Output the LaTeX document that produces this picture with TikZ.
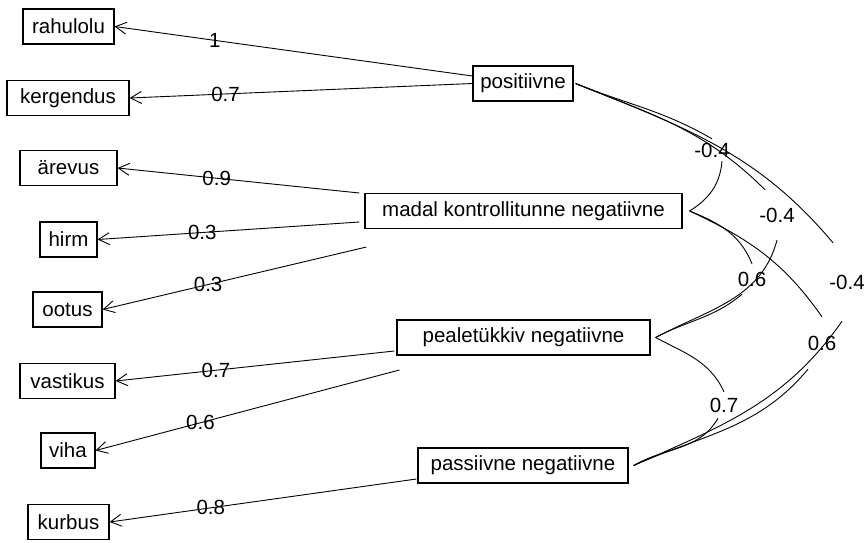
\documentclass[tikz,border=0pt]{standalone}
\usepackage{fontspec}
\setmainfont{Liberation Sans}
\usepackage{tikz}
\usetikzlibrary{arrows.meta,positioning}
\tikzset{
  obsbox/.style={draw, line width=1.2pt, minimum height=35pt, inner sep=0pt,
    font=\fontsize{20.5pt}{24pt}\selectfont},
  latbox/.style={obsbox},
  loading/.style={-{Straight Barb[length=11pt,width=12pt]}, line width=0.9pt},
  loadlabel/.style={inner sep=0pt, font=\fontsize{20.5pt}{24pt}\selectfont},
  covcurve/.style={line width=0.9pt},
  covlabel/.style={inner sep=0pt, minimum width=36pt, font=\fontsize{20.5pt}{24pt}\selectfont},
}
\begin{document}
\begin{tikzpicture}[x=1pt,y=1pt]
  \useasboundingbox (0,0) rectangle (866,-542);
  % factors
  \node[latbox, minimum width=100pt] (positiivne) at (523,-83.5) {positiivne};
  \node[latbox, minimum width=317pt] (madal) at (523.5,-211) {madal kontrollitunne negatiivne};
  \node[latbox, minimum width=253pt] (pealetukkiv) at (523.5,-337.5) {pealetükkiv negatiivne};
  \node[latbox, minimum width=210pt] (passiivne) at (523,-465.5) {passiivne negatiivne};
  % indicators
  \node[obsbox, minimum width=91pt] (rahulolu) at (68.5,-26.5) {rahulolu};
  \node[obsbox, minimum width=122pt] (kergendus) at (68,-98) {kergendus};
  \node[obsbox, minimum width=97pt] (arevus) at (68.5,-168) {ärevus};
  \node[obsbox, minimum width=57pt] (hirm) at (68.5,-239.5) {hirm};
  \node[obsbox, minimum width=69pt] (ootus) at (67.5,-309.5) {ootus};
  \node[obsbox, minimum width=95pt] (vastikus) at (67.5,-381) {vastikus};
  \node[obsbox, minimum width=54pt] (viha) at (68,-450.5) {viha};
  \node[obsbox, minimum width=81pt] (kurbus) at (68.5,-522) {kurbus};
  % loadings
  \draw[loading] ([yshift=7.5pt]positiivne.west) -- node[loadlabel, pos=0.72] {1} (rahulolu.east);
  \draw[loading] (positiivne.west) -- node[loadlabel, pos=0.72] {0.7} (kergendus.east);
  \draw[loading] ([shift={(-5pt,18pt)}]madal.west) -- node[loadlabel, pos=0.59] {0.9} (arevus.east);
  \draw[loading] ([shift={(-5pt,-11pt)}]madal.west) -- node[loadlabel, pos=0.6] {0.3} (hirm.east);
  \draw[loading] ([shift={(2pt,-36pt)}]madal.west) -- node[loadlabel, pos=0.6] {0.3} (ootus.east);
  \draw[loading] ([shift={(-2pt,-13.5pt)}]pealetukkiv.west) -- node[loadlabel, pos=0.64] {0.7} (vastikus.east);
  \draw[loading] ([shift={(3pt,-32.5pt)}]pealetukkiv.west) -- node[loadlabel, pos=0.655] {0.6} (viha.east);
  \draw[loading] ([shift={(-1pt,-13.5pt)}]passiivne.west) -- node[loadlabel, pos=0.67] {0.8} (kurbus.east);
  % covariances
  \coordinate (posR) at ([xshift=2pt]positiivne.east);
  \coordinate (madR) at ([xshift=7pt]madal.east);
  \coordinate (peaR) at ([xshift=5pt]pealetukkiv.east);
  \coordinate (pasR) at ([xshift=5pt]passiivne.east);
  \node[covlabel, minimum height=22pt] (c1) at (712,-150) {-0.4};
  \node[covlabel, minimum height=50pt] (c2) at (777,-215) {-0.4};
  \node[covlabel, minimum height=78pt] (c3) at (847,-282) {-0.4};
  \node[covlabel, minimum height=30pt] (c4) at (752,-279) {0.6};
  \node[covlabel, minimum height=52pt] (c5) at (822,-343) {0.6};
  \node[covlabel, minimum height=26pt] (c6) at (724,-405) {0.7};
  \draw[covcurve] (posR) to[out=-22,in=150] (c1.north);
  \draw[covcurve] ([xshift=10pt]c1.south) to[out=-95,in=32] (madR);
  \draw[covcurve] (posR) to[out=-22,in=135] ([xshift=-12pt]c2.north);
  \draw[covcurve] (c2.south) to[out=-105,in=28] (peaR);
  \draw[covcurve] (posR) to[out=-22,in=130] ([xshift=-14pt]c3.north);
  \draw[covcurve] ([xshift=-5pt]c3.south) to[out=-125,in=24] (pasR);
  \draw[covcurve] (madR) to[out=-22,in=112] (c4.north);
  \draw[covcurve] ([xshift=-10pt]c4.south) to[out=-140,in=28] (peaR);
  \draw[covcurve] (madR) to[out=-25,in=125] (c5.north);
  \draw[covcurve] ([xshift=-14pt]c5.south) to[out=-130,in=24] (pasR);
  \draw[covcurve] (peaR) to[out=-28,in=115] (c6.north);
  \draw[covcurve] ([xshift=-6pt]c6.south) to[out=-120,in=30] (pasR);
\end{tikzpicture}
\end{document}
